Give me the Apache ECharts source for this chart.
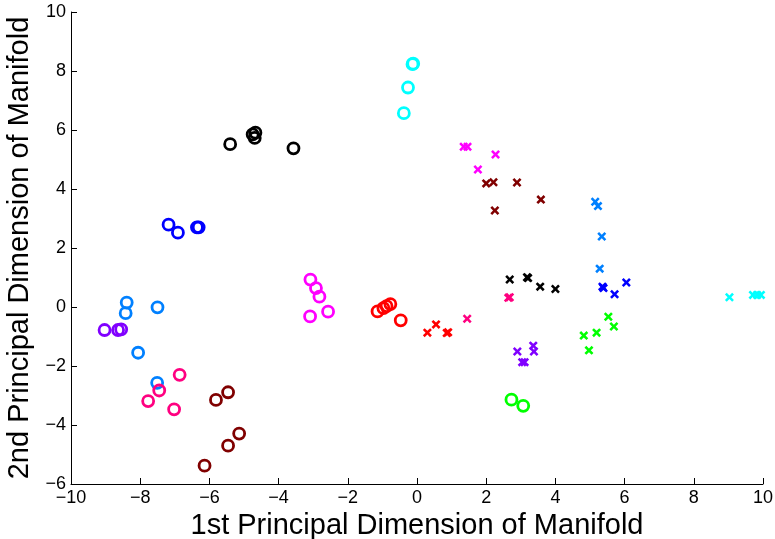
<!DOCTYPE html>
<html><head><meta charset="utf-8">
<script src="https://cdn.jsdelivr.net/npm/echarts@6/dist/echarts.min.js"></script>
<style>html,body{margin:0;padding:0;background:#fff}#c{width:775px;height:539px}</style>
</head><body><div id="c"></div>
<script>
// circle groups
const circCyan = [[-0.13,8.23],[-0.11,8.25],[-0.26,7.44],[-0.38,6.57]];
const circBlack = [[-5.40,5.52],[-4.75,5.85],[-4.67,5.91],[-4.69,5.73],[-3.57,5.38]];
const circBlue = [[-7.18,2.79],[-6.91,2.52],[-6.36,2.70],[-6.31,2.70]];
const circDodger = [[-8.39,0.15],[-8.42,-0.21],[-7.50,-0.01],[-8.06,-1.55],[-7.51,-2.57]];
const circPurple = [[-9.03,-0.78],[-8.64,-0.78],[-8.55,-0.76]];
const circPink = [[-6.86,-2.30],[-7.45,-2.83],[-7.77,-3.19],[-7.02,-3.47]];
const circDarkRed = [[-5.46,-2.89],[-5.81,-3.15],[-5.14,-4.29],[-5.46,-4.70],[-6.14,-5.38]];
const circMagenta = [[-3.08,0.93],[-2.92,0.64],[-2.82,0.35],[-2.57,-0.16],[-3.09,-0.32]];
const circRed = [[-1.14,-0.15],[-0.97,-0.04],[-0.88,0.03],[-0.77,0.10],[-0.47,-0.45]];
const circGreen = [[2.73,-3.14],[3.07,-3.35]];
// cross groups
const xMagenta = [[1.35,5.43],[1.46,5.43],[2.27,5.17],[1.76,4.66]];
const xDarkRed = [[2.00,4.19],[2.21,4.23],[2.89,4.22],[3.58,3.64],[2.25,3.27]];
const xDodger = [[5.15,3.57],[5.23,3.42],[5.34,2.39],[5.28,1.30]];
const xBlack = [[2.68,0.93],[3.18,1.01],[3.21,0.98],[3.56,0.69],[4.00,0.61]];
const xPink = [[2.64,0.31],[2.68,0.33],[1.45,-0.40]];
const xRed = [[0.30,-0.87],[0.55,-0.59],[0.86,-0.88],[0.90,-0.86]];
const xPurple = [[2.90,-1.51],[3.36,-1.31],[3.38,-1.51],[3.04,-1.87],[3.11,-1.87]];
const xGreen = [[4.82,-0.97],[5.19,-0.87],[5.53,-0.33],[5.69,-0.66],[4.97,-1.47]];
const xBlue = [[5.36,0.69],[5.39,0.64],[5.71,0.43],[6.05,0.83]];
const xCyan = [[9.03,0.33],[9.71,0.41],[9.83,0.41],[9.94,0.41]];

const xTicks = [-10,-8,-6,-4,-2,0,2,4,6,8,10];
const yTicks = [-6,-4,-2,0,2,4,6,8,10];

const crossPath = 'path://M0,2 L2,0 L5,3 L8,0 L10,2 L7,5 L10,8 L8,10 L5,7 L2,10 L0,8 L3,5 Z';

const circleGroups = [
  [circCyan,'#00FFFF'],[circBlack,'#000000'],[circBlue,'#0000FF'],[circDodger,'#0080FF'],
  [circPurple,'#8000FF'],[circPink,'#FF0080'],[circDarkRed,'#800000'],[circMagenta,'#FF00FF'],
  [circRed,'#FF0000'],[circGreen,'#00FF00']
];
const crossGroups = [
  [xMagenta,'#FF00FF'],[xDarkRed,'#800000'],[xDodger,'#0080FF'],[xBlack,'#000000'],
  [xPink,'#FF0080'],[xRed,'#FF0000'],[xPurple,'#8000FF'],[xGreen,'#00FF00'],
  [xBlue,'#0000FF'],[xCyan,'#00FFFF']
];

const series = [];
circleGroups.forEach(([d,c])=>series.push({
  type:'scatter', data:d, symbol:'circle', symbolSize:11,
  itemStyle:{color:'rgba(0,0,0,0)', borderColor:c, borderWidth:2.8, opacity:1}
}));
crossGroups.forEach(([d,c])=>series.push({
  type:'scatter', data:d, symbol:crossPath, symbolSize:9,
  itemStyle:{color:c, opacity:1}
}));

const fmt = (ticks)=>v=>ticks.includes(v)?String(v).replace('-','\u2212'):'';

const chart = echarts.init(document.getElementById('c'));
const font = '"Liberation Sans", Arial, sans-serif';
chart.setOption({
  animation:false,
  grid:{left:71, right:12, top:12, bottom:55, containLabel:false, outerBoundsMode:'none'},
  xAxis:{
    type:'value', min:-10, max:10, interval:2,
    name:'1st Principal Dimension of Manifold', nameLocation:'middle', nameGap:25,
    nameTextStyle:{fontFamily:font, fontSize:29, color:'#000'},
    axisLine:{show:true, onZero:false, lineStyle:{color:'#000', width:1}},
    axisTick:{show:true, inside:true, length:6, lineStyle:{color:'#000'}},
    axisLabel:{fontFamily:font, fontSize:18, color:'#000', margin:5,
      formatter:fmt(xTicks)},
    splitLine:{show:false}
  },
  yAxis:{
    type:'value', min:-6, max:10, interval:2,
    name:'2nd Principal Dimension of Manifold', nameLocation:'middle', nameGap:34,
    nameTextStyle:{fontFamily:font, fontSize:29, color:'#000'},
    axisLine:{show:true, onZero:false, lineStyle:{color:'#000', width:1}},
    axisTick:{show:true, inside:true, length:6, lineStyle:{color:'#000'}},
    axisLabel:{fontFamily:font, fontSize:18, color:'#000', margin:5,
      formatter:fmt(yTicks)},
    splitLine:{show:false}
  },
  series:series
});
</script></body></html>
